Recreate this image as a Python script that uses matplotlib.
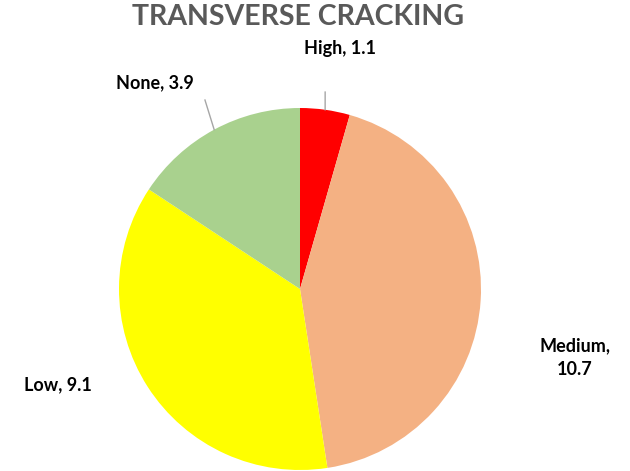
import matplotlib
matplotlib.use("Agg")
import matplotlib.pyplot as plt
import numpy as np

categories = ["High", "Medium", "Low", "None"]
values = [1.1, 10.7, 9.1, 3.9]
colors = ["#FF0000", "#F4B183", "#FFFF00", "#A9D18E"]
title = "TRANSVERSE CRACKING"

plt.rcParams['font.family'] = ['Lato', 'DejaVu Sans']

W, H = 630, 471
fig = plt.figure(figsize=(W / 100, H / 100), dpi=100)
cx, cy, r = 300, 289, 181
ax = fig.add_axes([(cx - r) / W, (H - cy - r) / H, 2 * r / W, 2 * r / H])
wedges, _ = ax.pie(values, colors=colors, startangle=90, counterclock=False,
                   radius=1, wedgeprops=dict(edgecolor="none", linewidth=0))
ax.set_xlim(-1, 1)
ax.set_ylim(-1, 1)
ax.set_aspect("equal")
ax.axis("off")

# label positions (data coords relative to pie)
label_pos = {
    "High": (0.22, 1.33, "center"),
    "Medium": (1.52, -0.38, "center"),
    "Low": (-1.34, -0.53, "center"),
    "None": (-0.80, 1.14, "center"),
}
leaders = {"High": (0.139, 1.088), "None": (-0.525, 1.044)}

for w, cat, v in zip(wedges, categories, values):
    ang = np.deg2rad((w.theta1 + w.theta2) / 2)
    px, py = np.cos(ang), np.sin(ang)
    lx, ly, ha = label_pos[cat]
    txt = f"{cat}, {v:g}" if cat != "Medium" else f"{cat},\n{v:g}"
    ax.text(lx, ly, txt, ha=ha, va="center", fontsize=13, fontweight="bold",
            color="black", linespacing=1.5, clip_on=False)
    if cat in leaders:
        ex, ey = leaders[cat]
        ax.plot([px, ex], [py, ey], color="#A6A6A6", lw=1, clip_on=False)

fig.text(298 / W, 1 - 17 / H, title, ha="center", va="center", fontsize=20.5,
         fontweight="bold", color="#595959")

fig.savefig("out.png", dpi=100)
